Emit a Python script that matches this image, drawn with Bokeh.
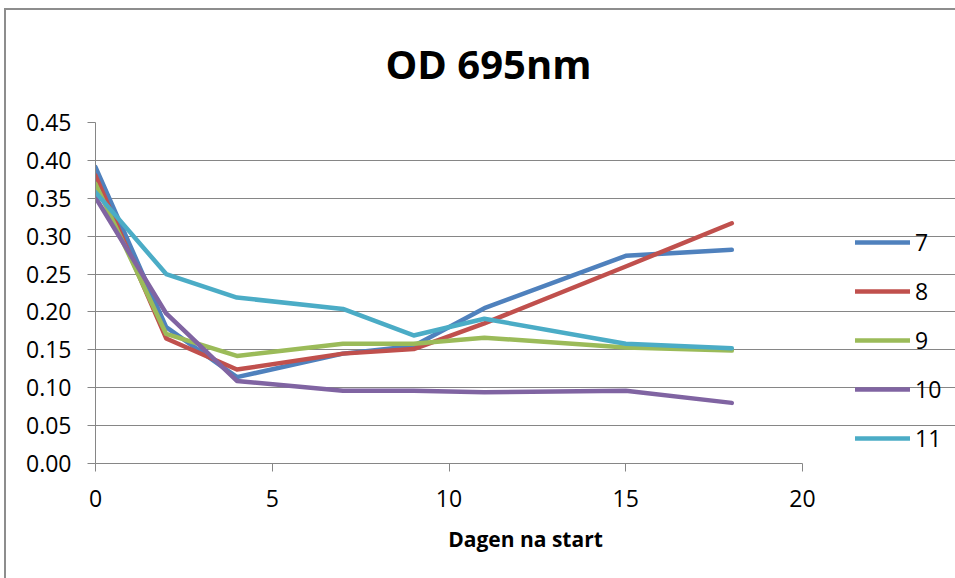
from bokeh.plotting import figure
from bokeh.models import Range1d, Legend, LegendItem, FixedTicker, NumeralTickFormatter
from bokeh.embed import file_html
from bokeh.resources import INLINE

days = [0, 2, 4, 7, 9, 11, 15, 18]
s7 = [0.391, 0.180, 0.114, 0.145, 0.155, 0.205, 0.274, 0.282]
s8 = [0.380, 0.165, 0.124, 0.145, 0.151, 0.185, 0.260, 0.317]
s9 = [0.369, 0.171, 0.142, 0.158, 0.158, 0.166, 0.153, 0.149]
s10 = [0.351, 0.198, 0.109, 0.096, 0.096, 0.094, 0.096, 0.080]
s11 = [0.358, 0.250, 0.219, 0.204, 0.169, 0.191, 0.158, 0.152]
names = ["7", "8", "9", "10", "11"]
colors = ["#4F81BD", "#C0504D", "#9BBB59", "#8064A2", "#4BACC6"]
series = [s7, s8, s9, s10, s11]
y_ticks = [0.0, 0.05, 0.10, 0.15, 0.20, 0.25, 0.30, 0.35, 0.40, 0.45]
x_ticks = [0, 5, 10, 15, 20]
x_max = 20

FONT = "Open Sans"

W, H = 955, 578
LEFT, TOP, BOTTOM = 95, 122, 115
AXIS_PX = 707  # pixel length of the 0..20 axis
x_end = x_max * (W - LEFT) / AXIS_PX

p = figure(width=W, height=H, output_backend="svg", toolbar_location=None,
           x_range=Range1d(0, x_end), y_range=Range1d(0, 0.45),
           min_border_left=LEFT, min_border_right=0, min_border_top=TOP, min_border_bottom=BOTTOM,
           title="OD 695nm",
           styles={"background-color": "white",
                   "box-shadow": "inset 4px 8px 0 0 white, inset 6px 10px 0 0 #8d8d8d"})

p.title.align = "left"
p.title.text_font = FONT
p.title.text_font_size = "40px"
p.title.text_font_style = "bold"
p.title.text_color = "#000000"
p.title.standoff = 64
p.title.offset = 290

p.outline_line_color = None
p.background_fill_color = "white"
p.border_fill_alpha = 0

p.xgrid.grid_line_color = None
p.ygrid.grid_line_color = "#868686"
p.ygrid.grid_line_width = 1
p.ygrid.ticker = FixedTicker(ticks=y_ticks)
p.ygrid.bounds = (0, x_max)

p.yaxis.ticker = FixedTicker(ticks=y_ticks)
p.yaxis.formatter = NumeralTickFormatter(format="0.00")
p.xaxis.ticker = FixedTicker(ticks=x_ticks)
p.xaxis.bounds = (0, x_max)

for ax in (p.xaxis[0], p.yaxis[0]):
    ax.axis_line_color = "#868686"
    ax.axis_line_width = 1
    ax.major_tick_line_color = "#868686"
    ax.major_tick_out = 8
    ax.major_tick_in = 0
    ax.minor_tick_line_color = None
    ax.major_label_text_font = FONT
    ax.major_label_text_font_size = "23px"
    ax.major_label_text_color = "#000000"

p.yaxis.major_label_standoff = 16
p.xaxis.major_label_standoff = 18
p.xaxis.axis_label = "Dagen na start"
p.xaxis.axis_label_text_font = FONT
p.xaxis.axis_label_text_font_size = "21px"
p.xaxis.axis_label_text_font_style = "bold"
p.xaxis.axis_label_text_color = "#000000"
p.xaxis.axis_label_standoff = 15

items = []
for name, col, vals in zip(names, colors, series):
    r = p.line(days, vals, line_color=col, line_width=4.5, line_join="round", line_cap="round")
    items.append(LegendItem(label=name, renderers=[r]))

legend = Legend(items=items, location=(760, 9), orientation="vertical",
                glyph_width=55, glyph_height=32, label_height=32, spacing=17,
                label_standoff=5, padding=0, margin=0,
                border_line_color=None, background_fill_alpha=0,
                label_text_font=FONT, label_text_font_size="23px", label_text_color="#000000")
p.add_layout(legend, "center")

open("out.html", "w").write(file_html(p, INLINE))
